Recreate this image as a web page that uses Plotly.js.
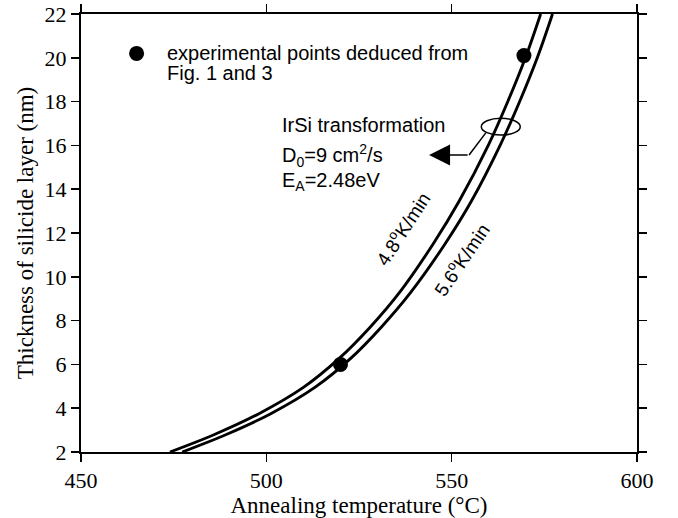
<!DOCTYPE html>
<html>
<head>
<meta charset="utf-8">
<script src="https://cdn.plot.ly/plotly-3.0.1.min.js"></script>
<style>html,body{margin:0;padding:0;background:#fff;}#chart{width:678px;height:518px;}</style>
</head>
<body>
<div id="chart"></div>
<script>
// Model curve, heating rate 4.8 K/min (temperature in °C, thickness in nm)
var temp48 = [474, 486, 498, 510, 519.5, 528, 536, 545, 552, 560, 565, 570, 574];
var thick48 = [2, 2.8, 3.75, 4.95, 6.25, 7.7, 9.3, 11.5, 13.45, 16.05, 17.95, 20.05, 22];
// Model curve, heating rate 5.6 K/min
var temp56 = [477.3, 489.2, 501.2, 513.1, 522.6, 531, 539, 548.2, 555.3, 563.2, 568.2, 573.2, 577.2];
var thick56 = [2, 2.8, 3.75, 4.95, 6.25, 7.7, 9.3, 11.5, 13.45, 16.05, 17.95, 20.05, 22];
// Experimental points deduced from Fig. 1 and 3
var expTemp = [520, 569.5];
var expThick = [6.0, 20.1];
// Legend key symbol
var keyTemp = [465];
var keyThick = [20.2];
// Tick values
var xTicks = [450, 500, 550, 600];
var yTicks = [2, 4, 6, 8, 10, 12, 14, 16, 18, 20, 22];

var serif = 'Liberation Serif, Times New Roman, serif';
var sans = 'Liberation Sans, Arial, sans-serif';

var traces = [
  {x: temp48, y: thick48, mode: 'lines', line: {color: '#000', width: 2.9, shape: 'spline', smoothing: 1}, showlegend: false, hoverinfo: 'skip'},
  {x: temp56, y: thick56, mode: 'lines', line: {color: '#000', width: 2.9, shape: 'spline', smoothing: 1}, showlegend: false, hoverinfo: 'skip'},
  {x: expTemp, y: expThick, mode: 'markers', marker: {color: '#000', size: 15}, showlegend: false, cliponaxis: false},
  {x: keyTemp, y: keyThick, mode: 'markers', marker: {color: '#000', size: 15}, showlegend: false}
];

var axisCommon = {
  showline: true, linewidth: 2, linecolor: '#000', mirror: 'ticks',
  ticks: 'outside', ticklen: 8, tickwidth: 1.5, tickcolor: '#000',
  showgrid: false, zeroline: false,
  tickfont: {family: serif, size: 22, color: '#000'}
};

var layout = {
  width: 678, height: 518,
  margin: {l: 81, r: 41, t: 14, b: 66},
  paper_bgcolor: '#fff', plot_bgcolor: '#fff',
  xaxis: Object.assign({}, axisCommon, {
    range: [450, 600], tickvals: xTicks, ticktext: xTicks.map(String),
    title: {text: 'Annealing temperature (°C)', font: {family: serif, size: 23, color: '#000'}, standoff: 0}
  }),
  yaxis: Object.assign({}, axisCommon, {
    range: [2, 22], tickvals: yTicks, ticktext: yTicks.map(String),
    title: {text: 'Thickness of silicide layer (nm)', font: {family: serif, size: 23, color: '#000'}, standoff: 5}
  }),
  shapes: [
    {type: 'circle', xref: 'x', yref: 'y', x0: 558.0, x1: 568.5, y0: 16.47, y1: 17.24, line: {color: '#000', width: 1.5}},
    {type: 'line', xref: 'x', yref: 'y', x0: 559.2, y0: 16.57, x1: 554.7, y1: 15.56, line: {color: '#000', width: 1.5}}
  ],
  annotations: [
    {xref: 'x', yref: 'y', x: 472.7, y: 20.22, text: 'experimental points deduced from', showarrow: false, xanchor: 'left', yanchor: 'middle', font: {family: sans, size: 20, color: '#000'}},
    {xref: 'x', yref: 'y', x: 472.7, y: 19.3, text: 'Fig. 1 and 3', showarrow: false, xanchor: 'left', yanchor: 'middle', font: {family: sans, size: 20, color: '#000'}},
    {xref: 'x', yref: 'y', x: 503.8, y: 16.93, text: 'IrSi transformation', showarrow: false, xanchor: 'left', yanchor: 'middle', font: {family: sans, size: 20, color: '#000'}},
    {xref: 'x', yref: 'y', x: 503.8, y: 15.56, text: 'D<sub>0</sub>=9 cm<sup>2</sup>/s', showarrow: false, xanchor: 'left', yanchor: 'middle', font: {family: sans, size: 20, color: '#000'}},
    {xref: 'x', yref: 'y', x: 503.8, y: 14.33, text: 'E<sub>A</sub>=2.48eV', showarrow: false, xanchor: 'left', yanchor: 'middle', font: {family: sans, size: 20, color: '#000'}},
    {xref: 'x', yref: 'y', x: 543.9, y: 15.56, ax: 554.7, ay: 15.56, axref: 'x', ayref: 'y', text: '', showarrow: true, arrowhead: 2, arrowsize: 2.8, arrowwidth: 1.5, arrowcolor: '#000', standoff: 0, startstandoff: 0},
    {xref: 'x', yref: 'y', x: 536.5, y: 12.2, text: '4.8<sup>o</sup>K/min', showarrow: false, textangle: -57, font: {family: sans, size: 19, color: '#000'}},
    {xref: 'x', yref: 'y', x: 552.6, y: 10.8, text: '5.6<sup>o</sup>K/min', showarrow: false, textangle: -56, font: {family: sans, size: 19, color: '#000'}}
  ]
};

Plotly.newPlot('chart', traces, layout, {staticPlot: true, displayModeBar: false});
</script>
</body>
</html>
